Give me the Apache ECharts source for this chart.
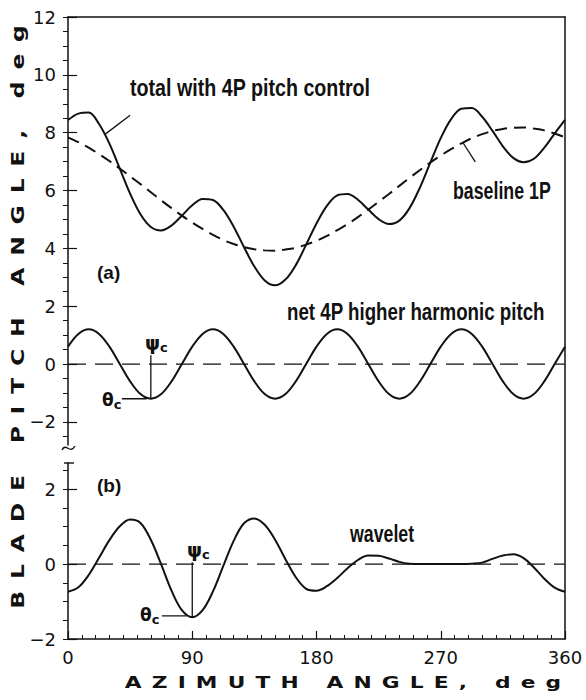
<!DOCTYPE html>
<html>
<head>
<meta charset="utf-8">
<script src="https://cdn.jsdelivr.net/npm/echarts@6/dist/echarts.min.js"></script>
<style>
  html, body { margin: 0; padding: 0; background: #fff; }
  #chart { width: 586px; height: 700px; }
</style>
</head>
<body>
<div id="chart"></div>
<script>
// Azimuth stations, deg
const azimuth = [0, 7.5, 15, 22.5, 30, 37.5, 45, 52.5, 60, 67.5, 75, 82.5,
  90, 97.5, 105, 112.5, 120, 127.5, 135, 142.5, 150, 157.5, 165, 172.5,
  180, 187.5, 195, 202.5, 210, 217.5, 225, 232.5, 240, 247.5, 255, 262.5,
  270, 277.5, 285, 292.5, 300, 307.5, 315, 322.5, 330, 337.5, 345, 352.5, 360];

// (a) baseline 1P pitch, deg
const baseline1P = [7.84, 7.67, 7.48, 7.26, 7.02, 6.76, 6.49, 6.22, 5.94, 5.66, 5.39, 5.13,
  4.89, 4.67, 4.47, 4.29, 4.15, 4.04, 3.97, 3.93, 3.92, 3.96, 4.02, 4.13,
  4.26, 4.43, 4.63, 4.84, 5.08, 5.34, 5.61, 5.88, 6.16, 6.44, 6.71, 6.97,
  7.21, 7.43, 7.63, 7.81, 7.95, 8.06, 8.13, 8.17, 8.18, 8.14, 8.08, 7.97, 7.84];

// (a) total pitch with 4P control, deg
const totalWith4P = [8.44, 8.66, 8.70, 8.30, 7.62, 6.76, 5.89, 5.18, 4.74, 4.62, 4.79, 5.13,
  5.49, 5.71, 5.67, 5.33, 4.75, 4.04, 3.37, 2.89, 2.72, 2.92, 3.42, 4.13,
  4.86, 5.47, 5.83, 5.88, 5.68, 5.34, 5.01, 4.84, 4.96, 5.40, 6.11, 6.97,
  7.81, 8.47, 8.83, 8.85, 8.55, 8.06, 7.53, 7.13, 6.98, 7.10, 7.48, 7.97, 8.44];

// (a) net 4P higher harmonic pitch, deg
const net4P = [0.60, 1.04, 1.20, 1.04, 0.60, 0, -0.60, -1.04, -1.20, -1.04, -0.60, 0,
  0.60, 1.04, 1.20, 1.04, 0.60, 0, -0.60, -1.04, -1.20, -1.04, -0.60, 0,
  0.60, 1.04, 1.20, 1.04, 0.60, 0, -0.60, -1.04, -1.20, -1.04, -0.60, 0,
  0.60, 1.04, 1.20, 1.04, 0.60, 0, -0.60, -1.04, -1.20, -1.04, -0.60, 0, 0.60];

// (b) wavelet pitch, deg
const wavelet = [-0.74, -0.62, -0.29, 0.17, 0.64, 1.01, 1.19, 1.10, 0.65, -0.01, -0.71, -1.23,
  -1.42, -1.23, -0.73, -0.05, 0.62, 1.09, 1.22, 1.05, 0.65, 0.13, -0.35, -0.66,
  -0.71, -0.59, -0.37, -0.11, 0.11, 0.23, 0.22, 0.15, 0.06, 0.01, 0, 0,
  0, 0, 0, 0.01, 0.04, 0.14, 0.23, 0.26, 0.16, -0.09, -0.39, -0.63, -0.74];

// Tick labels
const pitchTicksA = [-2, 0, 2, 4, 6, 8, 10, 12];
const pitchTicksB = [-2, 0, 2];
const azimuthTicks = [0, 90, 180, 270, 360];

const INK = '#111';
const pair = (ys) => azimuth.map((a, i) => [a, ys[i]]);
const halfSteps = (lo, hi) => { const v = []; for (let k = Math.ceil(lo * 2); k <= hi * 2; k++) v.push(k / 2); return v; };
const fmtNum = (v) => (v < 0 ? '\u2212' + Math.abs(v) : String(v));

const tickFont = { fontFamily: 'DejaVu Sans, sans-serif', fontSize: 18, color: INK };
const noteFont = "bold 24px 'Liberation Sans', Arial, sans-serif";

function lineSeries(xi, yi, data, style, smooth) {
  return {
    type: 'line', xAxisIndex: xi, yAxisIndex: yi, data: data,
    showSymbol: false, symbol: 'none', smooth: smooth ? 0.35 : false, silent: true,
    lineStyle: Object.assign({ color: INK, width: 2 }, style), z: 3
  };
}

const yMain = (grid, min, max, ticks) => ({
  type: 'value', gridIndex: grid, min: min, max: max,
  axisLine: { show: true, onZero: false, lineStyle: { color: INK, width: 1.5 } },
  axisTick: { show: true, inside: true, length: 9, customValues: ticks, lineStyle: { color: INK, width: 1.2 } },
  axisLabel: Object.assign({ customValues: ticks, margin: 12, formatter: fmtNum }, tickFont),
  splitLine: { show: false }
});
const yMinor = (grid, min, max) => ({
  type: 'value', gridIndex: grid, min: min, max: max,
  axisLine: { show: false },
  axisTick: { show: true, inside: true, length: 5, customValues: halfSteps(min, max), lineStyle: { color: INK, width: 1 } },
  axisLabel: { show: false }, splitLine: { show: false }
});

// condensed annotation text, anchored at its left-middle point
const note = (x, y, text, squeeze) => ({
  type: 'text', x: x, y: y, scaleX: squeeze,
  style: { text: text, font: noteFont, fill: INK, align: 'left', verticalAlign: 'middle' }
});
// symbol with subscript c
const subC = (x, y, sym, size) => ({
  type: 'text', x: x, y: y,
  style: { text: '{s|' + sym + '}{c|c}', fill: INK, align: 'left', verticalAlign: 'middle',
    rich: { s: { font: 'bold ' + size + 'px DejaVu Sans, sans-serif', fill: INK },
            c: { font: 'bold 13px DejaVu Sans, sans-serif', fill: INK, padding: [8, 0, 0, 0] } } }
});

const option = {
  animation: false,
  backgroundColor: '#fff',
  grid: [
    { left: 68, right: 21, top: 17, height: 428 },
    { left: 68, right: 21, top: 463, height: 176 },
    { left: 68, right: 21, top: 17, height: 622 }
  ],
  xAxis: [
    { type: 'value', gridIndex: 0, min: 0, max: 360, show: false },
    {
      type: 'value', gridIndex: 1, min: 0, max: 360, interval: 90,
      axisLine: { show: true, onZero: false, lineStyle: { color: INK, width: 1.5 } },
      axisTick: { show: true, inside: true, length: 8, lineStyle: { color: INK, width: 1.2 } },
      minorTick: { show: true, splitNumber: 9, length: 4, lineStyle: { color: INK, width: 1 } },
      axisLabel: Object.assign({ customValues: azimuthTicks, margin: 9 }, tickFont),
      splitLine: { show: false }
    },
    {
      type: 'value', gridIndex: 2, min: 0, max: 1, position: 'top',
      axisLine: { show: true, onZero: false, lineStyle: { color: INK, width: 1.5 } },
      axisTick: { show: false }, axisLabel: { show: false }, splitLine: { show: false }
    }
  ],
  yAxis: [
    yMain(0, -2.8, 12, pitchTicksA),
    yMinor(0, -2.8, 12),
    yMain(1, -2, 2.7, pitchTicksB),
    yMinor(1, -2, 2.7),
    {
      type: 'value', gridIndex: 2, min: 0, max: 1, position: 'right',
      axisLine: { show: true, onZero: false, lineStyle: { color: INK, width: 1.5 } },
      axisTick: { show: false }, axisLabel: { show: false }, splitLine: { show: false }
    }
  ],
  series: [
    // panel (a)
    lineSeries(0, 0, [[0, 0], [360, 0]], { width: 1.2, type: [18, 9] }),
    lineSeries(0, 0, pair(baseline1P), { width: 2, type: [12, 7] }, true),
    lineSeries(0, 0, pair(totalWith4P), {}, true),
    lineSeries(0, 0, pair(net4P), {}, true),
    // leader lines and phase / amplitude markers, panel (a)
    lineSeries(0, 0, [[45, 8.6], [27, 7.95]], { width: 1.3 }),
    lineSeries(0, 0, [[286, 7.66], [295, 6.99]], { width: 1.3 }),
    lineSeries(0, 0, [[60, 0.3], [60, -1.2]], { width: 1.3 }),
    lineSeries(0, 0, [[39, -1.2], [57, -1.2]], { width: 1.3 }),
    // panel (b)
    lineSeries(1, 2, [[0, 0], [360, 0]], { width: 1.2, type: [18, 9] }),
    lineSeries(1, 2, pair(wavelet), {}, true),
    lineSeries(1, 2, [[90, 0.05], [90, -1.42]], { width: 1.3 }),
    lineSeries(1, 2, [[68, -1.38], [86, -1.38]], { width: 1.3 })
  ],
  graphic: [
    // axis break on the pitch axis
    { type: 'bezierCurve', shape: { x1: 62, y1: 450, x2: 75, y2: 446, cpx1: 66, cpy1: 442, cpx2: 70, cpy2: 455 },
      style: { stroke: INK, lineWidth: 1.4, fill: null } },
    { type: 'line', shape: { x1: 64, y1: 463, x2: 74, y2: 463 }, style: { stroke: INK, lineWidth: 1.4 } },

    // annotations
    note(130, 88, 'total with 4P pitch control', 0.82),
    note(453, 190, 'baseline 1P', 0.74),
    note(287, 312, 'net 4P higher harmonic pitch', 0.78),
    note(350, 533, 'wavelet', 0.74),
    { type: 'text', x: 97, y: 272, style: { text: '(a)', font: 'bold 19px Liberation Sans, Arial, sans-serif', fill: INK, verticalAlign: 'middle' } },
    { type: 'text', x: 97, y: 485, style: { text: '(b)', font: 'bold 19px Liberation Sans, Arial, sans-serif', fill: INK, verticalAlign: 'middle' } },
    subC(145, 343, '\u03c8', 19),
    subC(102, 400, '\u03b8', 17),
    subC(187, 550, '\u03c8', 19),
    subC(140, 615, '\u03b8', 17),

    // axis titles (wide, extended lettering)
    { type: 'text', x: 18, y: 311, rotation: Math.PI / 2, scaleX: 1.3,
      style: { text: 'BLADE PITCH ANGLE, deg', font: 'bold 18px DejaVu Sans, sans-serif', fill: INK, align: 'center', verticalAlign: 'middle' } },
    { type: 'text', x: 348, y: 683, scaleX: 1.45,
      style: { text: 'AZIMUTH ANGLE, deg', font: 'bold 15px DejaVu Sans, sans-serif', fill: INK, align: 'center', verticalAlign: 'middle' } }
  ]
};

const chart = echarts.init(document.getElementById('chart'), null, { renderer: 'svg' });
chart.setOption(option);

// extra tracking on the axis titles
const tracking = { 'BLADE PITCH ANGLE, deg': '9.1px', 'AZIMUTH ANGLE, deg': '7px' };
function applyTracking() {
  document.querySelectorAll('#chart text').forEach(function (t) {
    const s = tracking[t.textContent];
    if (s) t.setAttribute('letter-spacing', s);
  });
}
applyTracking();
chart.on('finished', applyTracking);
</script>
</body>
</html>
